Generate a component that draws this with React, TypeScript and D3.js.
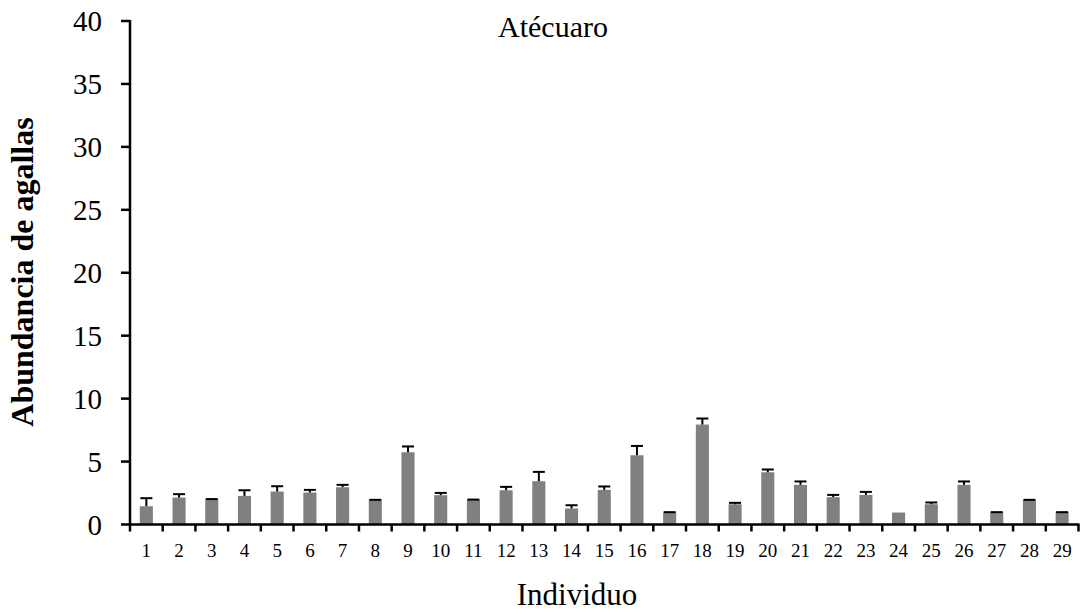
import React, { useEffect, useRef } from "react";
import * as d3 from "d3";

// Atécuaro - abundancia de agallas por individuo
const individuos = [
  "1", "2", "3", "4", "5", "6", "7", "8", "9", "10",
  "11", "12", "13", "14", "15", "16", "17", "18", "19", "20",
  "21", "22", "23", "24", "25", "26", "27", "28", "29"
];

const medias = [
  1.45, 2.14, 1.99, 2.27, 2.62, 2.54, 2.96, 1.93, 5.74, 2.33,
  1.95, 2.72, 3.44, 1.27, 2.75, 5.5, 0.95, 7.94, 1.61, 4.15,
  3.15, 2.17, 2.35, 0.95, 1.61, 3.15, 0.95, 1.93, 0.95
];

const errores = [
  0.64, 0.27, 0.03, 0.45, 0.42, 0.21, 0.19, 0.03, 0.46, 0.18,
  0.03, 0.27, 0.74, 0.26, 0.27, 0.74, 0.03, 0.48, 0.11, 0.22,
  0.27, 0.18, 0.24, 0, 0.14, 0.27, 0.03, 0.03, 0.03
];

const yTicks = [0, 5, 10, 15, 20, 25, 30, 35, 40];

const W = 1081;
const H = 614;
const FONT = "'Liberation Serif', 'Times New Roman', serif";

export default function App() {
  const ref = useRef<SVGSVGElement>(null);

  useEffect(() => {
    const svg = d3.select(ref.current);
    svg.selectAll("*").remove();

    const data = individuos.map((c, i) => ({ c, m: medias[i], e: errores[i] }));

    const x = d3.scaleBand().domain(individuos).range([130, 1078.5]).padding(0);
    const y = d3.scaleLinear().domain([0, 40]).range([524.5, 21]);

    const barW = x.bandwidth() * 0.4;
    const cx = (c: string) => x(c)! + x.bandwidth() / 2;

    // bars
    svg
      .selectAll(".bar")
      .data(data)
      .enter()
      .append("rect")
      .attr("class", "bar")
      .attr("x", d => cx(d.c) - barW / 2)
      .attr("y", d => y(d.m))
      .attr("width", barW)
      .attr("height", d => y(0) - y(d.m))
      .attr("fill", "#808080");

    // error bars (upper only)
    const eb = svg
      .selectAll(".err")
      .data(data.filter(d => d.e > 0))
      .enter()
      .append("g")
      .attr("class", "err")
      .attr("stroke", "#000")
      .attr("stroke-width", 2);

    eb.append("line")
      .attr("x1", d => cx(d.c))
      .attr("x2", d => cx(d.c))
      .attr("y1", d => y(d.m))
      .attr("y2", d => y(d.m + d.e));

    eb.append("line")
      .attr("x1", d => cx(d.c) - 6)
      .attr("x2", d => cx(d.c) + 6)
      .attr("y1", d => y(d.m + d.e))
      .attr("y2", d => y(d.m + d.e));

    // y axis
    svg
      .append("line")
      .attr("x1", 130)
      .attr("x2", 130)
      .attr("y1", y(40) - 1)
      .attr("y2", y(0) + 1)
      .attr("stroke", "#000")
      .attr("stroke-width", 2.5);

    svg
      .selectAll(".ytick")
      .data(yTicks)
      .enter()
      .append("line")
      .attr("x1", 121)
      .attr("x2", 130)
      .attr("y1", d => y(d))
      .attr("y2", d => y(d))
      .attr("stroke", "#000")
      .attr("stroke-width", 2.5);

    svg
      .selectAll(".ylab")
      .data(yTicks)
      .enter()
      .append("text")
      .attr("x", 102)
      .attr("y", d => y(d) + 10)
      .attr("text-anchor", "end")
      .attr("font-family", FONT)
      .attr("font-size", 29)
      .text(d => d);

    // x axis
    svg
      .append("line")
      .attr("x1", 129)
      .attr("x2", 1079.5)
      .attr("y1", y(0))
      .attr("y2", y(0))
      .attr("stroke", "#000")
      .attr("stroke-width", 2.5);

    const bounds = individuos.map(d => x(d)!).concat([x.range()[1]]);
    svg
      .selectAll(".xtick")
      .data(bounds)
      .enter()
      .append("line")
      .attr("x1", d => d)
      .attr("x2", d => d)
      .attr("y1", y(0))
      .attr("y2", y(0) + 7)
      .attr("stroke", "#000")
      .attr("stroke-width", 2.5);

    svg
      .selectAll(".xlab")
      .data(individuos)
      .enter()
      .append("text")
      .attr("x", d => cx(d))
      .attr("y", 556.5)
      .attr("text-anchor", "middle")
      .attr("font-family", FONT)
      .attr("font-size", 19)
      .text(d => d);

    // titles
    svg
      .append("text")
      .attr("x", 553)
      .attr("y", 37)
      .attr("text-anchor", "middle")
      .attr("font-family", FONT)
      .attr("font-size", 30)
      .text("Atécuaro");

    svg
      .append("text")
      .attr("x", 577)
      .attr("y", 605)
      .attr("text-anchor", "middle")
      .attr("font-family", FONT)
      .attr("font-size", 31)
      .text("Individuo");

    svg
      .append("text")
      .attr("transform", "translate(33,272) rotate(-90)")
      .attr("text-anchor", "middle")
      .attr("font-family", FONT)
      .attr("font-size", 32)
      .attr("font-weight", "bold")
      .text("Abundancia de agallas");
  }, []);

  return (
    <svg
      ref={ref}
      width={W}
      height={H}
      style={{ position: "absolute", left: 0, top: 0, background: "#fff" }}
    />
  );
}
